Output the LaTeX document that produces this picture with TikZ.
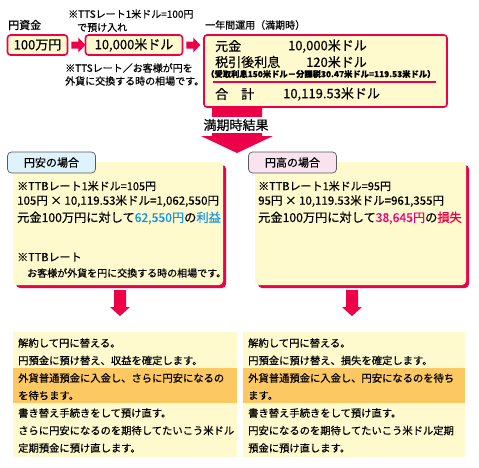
\documentclass[tikz,border=0pt]{standalone}
\usepackage{fontspec}
\setmainfont{Noto Sans CJK JP}[RawFeature={embolden=0.5}]
\usetikzlibrary{calc,positioning}

\definecolor{hong}{RGB}{236,0,72}
\definecolor{huang}{RGB}{255,250,206}
\definecolor{cheng}{RGB}{252,200,98}
\definecolor{lan}{RGB}{20,150,230}
\definecolor{fen}{RGB}{232,0,128}
\definecolor{qinglan}{RGB}{222,243,251}
\definecolor{fenhong}{RGB}{249,227,241}

\newcommand\ziDa{\fontsize{13}{15}\selectfont}
\newcommand\ziZhong{\fontsize{11}{13}\selectfont}
\newcommand\ziXia{\fontsize{10.3}{12}\selectfont}
\newcommand\ziXiao{\fontsize{10}{12}\selectfont}
\newcommand\ziWei{\fontsize{8.3}{10}\selectfont}

% 右向き・下向きの矢印
\newcommand\youjian[1]{\fill[hong] #1 ++(0,-3.5) -- ++(7,0) -- ++(0,-4) -- ++(7,7.5) -- ++(-7,7.5) -- ++(0,-4) -- ++(-7,0) -- cycle;}
\newcommand\xiajian[1]{\fill[hong] #1 ++(-6,0) -- ++(12,0) -- ++(0,17) -- ++(4,0) -- ++(-10,9) -- ++(-10,-9) -- ++(4,0) -- cycle;}

\tikzset{
	hongkuang/.style={draw=hong, line width=1.6pt, fill=huang, rounded corners=3pt, inner sep=0pt},
	wenzi/.style={anchor=west, inner sep=0pt},
	biaoqian/.style={draw=black!65, line width=0.7pt, rounded corners=4pt, minimum width=88, minimum height=21, font=\ziZhong},
	dikuang/.style={fill=huang, minimum height=125, anchor=north west, inner sep=0pt},
}

\begin{document}
\begin{tikzpicture}[x=1pt,y=-1pt]
\useasboundingbox (0,0) rectangle (479,467);

% 預け入れ
\node[wenzi, font=\ziZhong] (zijin) at (8,25) {円資金};
\node[hongkuang, minimum width=60, minimum height=20, font=\ziDa] (yen) at (37.5,45) {100万円};
\node[hongkuang, minimum width=97, minimum height=20, font=\ziDa] (dollar) at (134,45) {10,000米ドル};
\node[wenzi, font=\ziXiao] (tts) at (68,14) {※TTSレート1米ドル=100円};
\node[wenzi, font=\ziXiao] (yuke) at (77,27.5) {で預け入れ};
\node[wenzi, font=\ziXiao] (zhuA) at (65,68) {※TTSレート／お客様が円を};
\node[wenzi, font=\ziXiao] (zhuB) at (65,81) {外貨に交換する時の相場です。};
\youjian{($(yen.east)+(3,0)$)}
\youjian{($(dollar.east)+(3,0)$)}

% 一年間運用
\node[wenzi, font=\ziXiao] (yunyongbt) at (205,25) {一年間運用（満期時）};
\node[hongkuang, minimum width=243, minimum height=72] (yunyong) at (325.5,71) {};
\node[wenzi, font=\ziDa] (yuanjin) at (215,46) {元金};
\node[anchor=east, inner sep=0pt, font=\ziDa] (yuanjinv) at (367,46) {10,000米ドル};
\node[wenzi, font=\ziDa] (lixi) at (215,62) {税引後利息};
\node[anchor=east, inner sep=0pt, font=\ziDa] (lixiv) at (367,62) {120米ドル};
\node[wenzi, font=\ziWei\bfseries] (mingxi) at (206,74) {（受取利息150米ドル－分課税30.47米ドル=119.53米ドル）};
\draw[hong, line width=1.3pt] (213,82) -- (436,82);
\node[wenzi, font=\ziDa] (heji) at (215,94) {合\hspace{1em}計};
\node[wenzi, font=\ziDa] (hejiv) at (283,94) {10,119.53米ドル};

% 満期時結果
\fill[hong] (212,107) -- (262,107) -- (262,136) -- (273,136) -- (237,153) -- (201,136) -- (212,136) -- cycle;
\node[fill=white, inner xsep=1pt, inner ysep=2pt, font=\ziDa] (jieguo) at (236,125) {満期時結果};

% 円安の場合
\fill[hong, rounded corners=4pt] (16,165) rectangle (226,288);
\fill[huang, rounded corners=4pt] (13,162) rectangle (223,285);
\node[biaoqian, fill=qinglan] (yuanan) at (51.5,162.5) {円安の場合};
\node[wenzi, font=\ziZhong] (anA) at (17,186) {※TTBレート1米ドル=105円};
\node[wenzi, font=\fontsize{11.5}{14}\selectfont] (anB) at (17,201) {105円 × 10,119.53米ドル=1,062,550円};
\node[wenzi, font=\fontsize{12.2}{14}\selectfont] (anC) at (17,218) {元金100万円に対して\textcolor{lan}{62,550円}の\textcolor{lan}{利益}};
\node[wenzi, font=\ziZhong] (anD) at (17,257) {※TTBレート};
\node[wenzi, font=\ziXiao] (anE) at (27,273) {お客様が外貨を円に交換する時の相場です。};

% 円高の場合
\fill[hong, rounded corners=4pt] (258,165) rectangle (469,288);
\fill[huang, rounded corners=4pt] (255,162) rectangle (466,285);
\node[biaoqian, fill=fenhong] (yuangao) at (292.5,162.5) {円高の場合};
\node[wenzi, font=\ziZhong] (gaoA) at (258,186) {※TTBレート1米ドル=95円};
\node[wenzi, font=\fontsize{11.5}{14}\selectfont] (gaoB) at (258,201) {95円 × 10,119.53米ドル=961,355円};
\node[wenzi, font=\fontsize{12.2}{14}\selectfont] (gaoC) at (258,218) {元金100万円に対して\textcolor{fen}{38,645円}の\textcolor{hong}{損失}};

\xiajian{(120,290)}
\xiajian{(352,290)}

% 下段
\node[dikuang, minimum width=224] (anxia) at (13,332) {};
\fill[cheng] (13,368) rectangle (237,403);
\node[dikuang, minimum width=222] (gaoxia) at (243,332) {};
\fill[cheng] (243,368) rectangle (465,403);

\foreach \y/\t/\s [count=\i] in {343/解約して円に替える。/解約して円に替える。,
	360.5/円預金に預け替え、収益を確定します。/円預金に預け替え、損失を確定します。,
	378/外貨普通預金に入金し、さらに円安になるの/外貨普通預金に入金し、円安になるのを待ち,
	395.5/を待ちます。/ます。,
	413/書き替え手続きをして預け直す。/書き替え手続きをして預け直す。,
	430.5/さらに円安になるのを期待してたいこう米ドル/円安になるのを期待してたいこう米ドル定期,
	448/定期預金に預け直します。/預金に預け直します。} {
	\node[wenzi, font=\ziXia] (zuo\i) at (18,\y) {\t};
	\node[wenzi, font=\ziXia] (you\i) at (248,\y) {\s};
}

\end{tikzpicture}
\end{document}
